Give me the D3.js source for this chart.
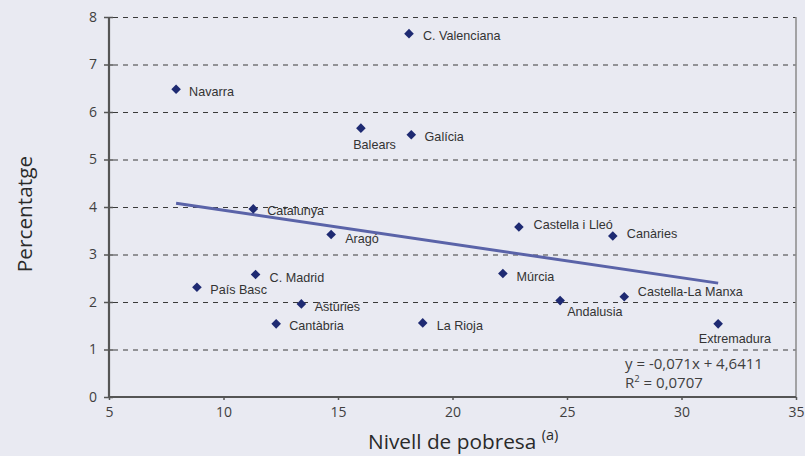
<!DOCTYPE html>
<html>
<head>
<meta charset="utf-8">
<script src="https://cdn.jsdelivr.net/npm/d3@7"></script>
<style>
    html, body { margin: 0; padding: 0; background: #e9eaf2; }
    #chart { width: 805px; height: 456px; }
    .tick text { font-family: "Open Sans", sans-serif; font-size: 14px; fill: #3f3f3f; }
    .point-label { font-family: "Liberation Sans", Arial, sans-serif; font-size: 12.6px; fill: #333; }
</style>
</head>
<body>
<div id="chart"></div>
<script>
// Dades llegides del gràfic
const regions = ["Navarra", "C. Valenciana", "Balears", "Galícia", "Catalunya", "Aragó", "C. Madrid",
    "País Basc", "Astúries", "Cantàbria", "Castella i Lleó", "Canàries", "Múrcia", "Andalusia",
    "Castella-La Manxa", "La Rioja", "Extremadura"];
const pobresa = [7.93, 18.1, 16.0, 18.2, 11.3, 14.7, 11.4, 8.84, 13.4, 12.3, 22.9, 27.0, 22.2, 24.7, 27.5, 18.7, 31.6];
const percentatge = [6.48, 7.65, 5.66, 5.52, 3.96, 3.42, 2.58, 2.31, 1.96, 1.54, 3.58, 3.39, 2.60, 2.03, 2.11, 1.56, 1.54];
const xTicks = [5, 10, 15, 20, 25, 30, 35];
const yTicks = [0, 1, 2, 3, 4, 5, 6, 7, 8];
const trend = { slope: -0.071, intercept: 4.6411, r2: "0,0707" };
const equationText = "y = -0,071x + 4,6411";

// Posició de cada etiqueta respecte al seu punt (layout, no dades)
const labelOffsets = [[13, 7], [14, 6.7], [-7.7, 21], [13.3, 6], [14, 6], [14, 8], [14, 7.3],
    [13.3, 6.7], [13.3, 7.3], [13, 6.3], [14.7, 2.3], [14, 1.7], [13.6, 7.3], [7, 15],
    [13.6, -1], [14, 7.3], [-19.3, 18.7]];

const width = 805, height = 456;
const margin = { left: 109, right: 9, top: 17, bottom: 59 };

const svg = d3.select("#chart").append("svg")
    .attr("width", width)
    .attr("height", height);

const x = d3.scaleLinear().domain([5, 35]).range([margin.left, width - margin.right]);
const y = d3.scaleLinear().domain([0, 8]).range([height - margin.bottom, margin.top]);

// Línies de graella discontínues
svg.append("g")
    .selectAll("line")
    .data(yTicks.filter(d => d > 0))
    .join("line")
    .attr("x1", x(5) + 4)
    .attr("x2", x(35))
    .attr("y1", d => y(d) + 0.5)
    .attr("y2", d => y(d) + 0.5)
    .attr("stroke", "#3a3a3a")
    .attr("stroke-width", 1)
    .attr("stroke-dasharray", "5,5");

// Vora dreta
svg.append("line")
    .attr("x1", x(35)).attr("x2", x(35))
    .attr("y1", y(8)).attr("y2", y(0))
    .attr("stroke", "#8a8a8a")
    .attr("stroke-width", 1.5);

// Eixos
const xAxis = svg.append("g")
    .attr("transform", `translate(0,${y(0)})`)
    .call(d3.axisBottom(x).tickValues(xTicks).tickSize(3).tickPadding(7));
const yAxis = svg.append("g")
    .attr("transform", `translate(${x(5)},0)`)
    .call(d3.axisLeft(y).tickValues(yTicks).tickSize(5).tickPadding(7));

[xAxis, yAxis].forEach(g => {
    g.select(".domain").attr("stroke", "#555").attr("stroke-width", 2.2);
    g.selectAll(".tick line").attr("stroke", "#555").attr("stroke-width", 1.5);
});
yAxis.selectAll(".tick line").attr("x2", -5).attr("x1", 4);
xAxis.select(".domain").attr("d", `M${x(5)},0H${x(35)}`);
yAxis.select(".domain").attr("d", `M0,${y(8)}V${y(0)}`);

// Línia de tendència
const xMin = d3.min(pobresa), xMax = d3.max(pobresa);
svg.append("line")
    .attr("x1", x(xMin)).attr("y1", y(trend.slope * xMin + trend.intercept))
    .attr("x2", x(xMax)).attr("y2", y(trend.slope * xMax + trend.intercept))
    .attr("stroke", "#5a63a8")
    .attr("stroke-width", 3);

// Punts en forma de diamant
const r = 4.8;
const points = regions.map((name, i) => ({ name, px: pobresa[i], py: percentatge[i], off: labelOffsets[i] }));

svg.append("g")
    .selectAll("path")
    .data(points)
    .join("path")
    .attr("d", `M0,${-r}L${r},0L0,${r}L${-r},0Z`)
    .attr("transform", d => `translate(${x(d.px)},${y(d.py)})`)
    .attr("fill", "#1e2a72");

svg.append("g")
    .selectAll("text")
    .data(points)
    .join("text")
    .attr("class", "point-label")
    .attr("x", d => x(d.px) + d.off[0])
    .attr("y", d => y(d.py) + d.off[1])
    .text(d => d.name);

// Equació de la recta
const eq = svg.append("text")
    .attr("font-family", "Open Sans, sans-serif")
    .attr("font-size", 15)
    .attr("fill", "#3f3f3f");
eq.append("tspan").attr("x", 625).attr("y", 368.5).text(equationText);
eq.append("tspan").attr("x", 625).attr("y", 387.5).text("R");
eq.append("tspan").attr("dy", -6).attr("font-size", 9.5).text("2");
eq.append("tspan").attr("dy", 6).text(" = " + trend.r2);

// Títols dels eixos
const xTitle = svg.append("text")
    .attr("x", 368)
    .attr("y", 449)
    .attr("font-family", "Open Sans, sans-serif")
    .attr("font-size", 20.8)
    .attr("fill", "#2a2a2a");
xTitle.append("tspan").text("Nivell de pobresa ");
xTitle.append("tspan").attr("font-size", 14.5).attr("dy", -9).text("(a)");

svg.append("text")
    .attr("transform", "translate(32,214) rotate(-90)")
    .attr("text-anchor", "middle")
    .attr("font-family", "Open Sans, sans-serif")
    .attr("font-size", 20.8)
    .attr("fill", "#2a2a2a")
    .text("Percentatge");
</script>
</body>
</html>
